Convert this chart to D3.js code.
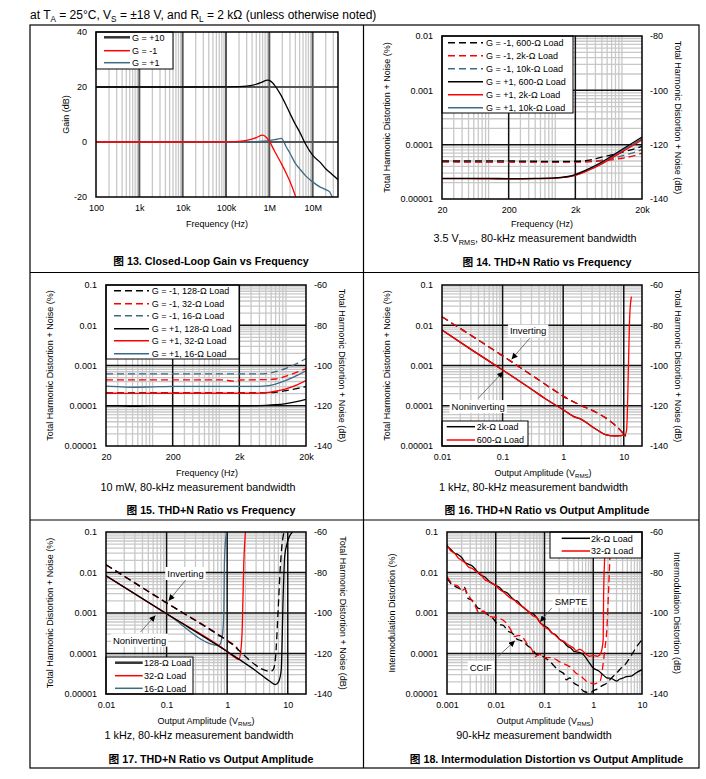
<!DOCTYPE html>
<html>
<head>
<meta charset="utf-8">
<script src="https://cdn.jsdelivr.net/npm/d3@7/dist/d3.min.js"></script>
<style>
  body { margin: 0; background: #fff; }
</style>
</head>
<body>
<svg id="page" width="706" height="779"></svg>
<script>
// ---------- Fig 13: closed-loop gain (dB) vs frequency (Hz)
const f13G10  = [100, 1e3, 1e4, 1e5, 2e5, 3e5, 5e5, 7e5, 9e5, 1e6, 1.3e6, 1.8e6, 2.5e6, 3e6, 4e6, 5e6, 7e6, 1e7, 1.5e7, 2e7, 2.6e7, 3e7, 3.85e7]
const gainG10 = [20, 20, 20, 20.05, 20.1, 20.3, 21.0, 21.9, 22.5, 22.4, 20.8, 17.4, 13, 10.4, 6.4, 3.7, -1, -4.8, -7.4, -9.7, -11.3, -12.2, -13.7]
const f13Gm1  = [100, 1e3, 1e4, 1e5, 2e5, 3e5, 5e5, 7e5, 1e6, 1.3e6, 1.8e6, 2.5e6, 3e6, 4e6, 4.5e6]
const gainGm1 = [0, 0, 0, 0.05, 0.25, 0.6, 1.6, 2.5, 0.3, -3.1, -7.2, -11.6, -14.4, -19.6, -22]
const f13G1   = [100, 1e3, 1e4, 1e5, 3e5, 5e5, 7e5, 1e6, 1.5e6, 1.9e6, 2.5e6, 3e6, 4e6, 5e6, 7e6, 1e7, 1.5e7, 2e7, 2.5e7, 2.8e7, 3.2e7]
const gainG1  = [0, 0, 0, 0, 0.05, 0.15, 0.3, 0.5, 1.0, 1.3, -2, -4.1, -7.8, -9.7, -12.4, -14.5, -16.4, -17.3, -18.2, -20, -23]

// ---------- Fig 14: THD+N (dB) vs frequency, 3.5 Vrms
const f14 = [20, 50, 100, 200, 500, 1000, 2000, 3000, 5000, 7000, 10000, 15000, 20000]
const thd14Inv600 = [-126, -126, -126, -126, -126.1, -126.2, -126.1, -125.8, -124.6, -123.8, -122.8, -121.6, -120.6]
const thd14Inv2k  = [-126.3, -126.4, -126.4, -126.4, -126.4, -126.4, -126.4, -126.3, -126, -125.6, -125, -124.1, -123.1]
const thd14Inv10k = [-126.3, -126.3, -126.4, -126.4, -126.4, -126.4, -126.3, -126.2, -125.7, -125.1, -124.1, -122.9, -121.8]
const thd14Non600 = [-132.4, -132.4, -132.4, -132.5, -132.4, -132.2, -131.0, -129.2, -126.4, -124.2, -121.8, -119.1, -117.2]
const thd14Non2k  = [-132.5, -132.5, -132.6, -132.6, -132.5, -132.3, -131.3, -129.7, -127.1, -125, -122.7, -120.1, -118.3]
const thd14Non10k = [-132.5, -132.5, -132.5, -132.6, -132.5, -132.3, -131.2, -129.5, -126.8, -124.7, -122.3, -119.7, -117.8]

// ---------- Fig 15: THD+N (dB) vs frequency, 10 mW
const f15 = [20, 30, 50, 100, 200, 500, 1000, 1800, 2000, 3000, 5000, 7000, 10000, 15000, 20000]
const thd15Inv128 = [-113.6, -113.6, -113.6, -113.6, -113.6, -113.6, -113.6, -113.6, -113.6, -113.6, -113.6, -113.3, -112.5, -111.4, -110.4]
const thd15Inv32  = [-107.1, -107.1, -107.1, -107.1, -107.1, -107.1, -107.1, -107.8, -107.2, -107.1, -107, -106.7, -105.3, -103.2, -101.6]
const thd15Inv16  = [-104.2, -104.2, -104.2, -104.2, -104.2, -104.2, -104.2, -104.2, -104.2, -104.2, -104, -103.1, -101.4, -98.8, -96.5]
const thd15Non128 = [-120, -120, -120.3, -120.1, -120, -120, -120, -120, -120, -120, -119.8, -119.5, -118.9, -117.8, -116.8]
const thd15Non32  = [-113.8, -113.8, -113.9, -113.8, -113.8, -113.8, -113.8, -113.8, -113.8, -113.8, -113.5, -112.8, -111.6, -109.5, -107.5]
const thd15Non16  = [-110.2, -110.5, -110.8, -110.6, -110.4, -110.4, -110.4, -110.4, -110.4, -110.4, -110.1, -109.2, -107.4, -104.8, -102.6]

// ---------- Fig 16: THD+N (dB) vs output amplitude (Vrms)
const v16Non      = [0.01, 0.03, 0.1, 0.3, 0.5, 1, 1.5, 2, 3, 4, 5, 7, 9, 10.4, 11, 11.4, 11.8, 12.6, 13.4]
const thd16Non600 = [-82.4, -92, -102.2, -111.8, -116.4, -122, -125.4, -126.8, -130.4, -132.8, -134.4, -135, -134.8, -134.6, -133, -126, -107.2, -74, -65.8]
const v16Non2k    = [0.01, 0.03, 0.1, 0.3, 0.5, 1, 1.5, 2, 3, 4, 5, 7, 9, 10.4, 10.8]
const thd16Non2k  = [-82.4, -92, -102.2, -111.8, -116.4, -122, -125.4, -126.8, -130.4, -132.8, -134.4, -135, -134.8, -134.6, -135.2]
const v16Inv      = [0.01, 0.1, 1, 10, 10.4]
const thd16Inv600 = [-75.8, -95.2, -115.2, -134, -134.6]
const thd16Inv2k  = [-75.8, -95.2, -115.2, -134, -134.6]

// ---------- Fig 17: THD+N (dB) vs output amplitude, headphone loads
const v17Non128   = [0.01, 0.1, 1, 3, 5, 6.3, 7.1, 7.8, 8.4, 8.9, 9.8, 11.9]
const thd17Non128 = [-81.6, -100.4, -119, -128.6, -133.6, -135.4, -133.8, -128, -91.8, -72, -65.4, -60]
const v17Inv128   = [0.01, 0.1, 1, 5.2, 5.76, 6.3, 6.9, 7.6, 8.4, 8.7]
const thd17Inv128 = [-76.2, -95, -113.6, -128.8, -128, -121.4, -100, -75.4, -62, -60]
const v17Non32    = [0.01, 0.1, 1, 1.29, 1.56, 1.66, 1.77, 1.88, 2.0]
const thd17Non32  = [-81.6, -100.4, -119, -121.6, -123, -119.8, -108.2, -75.4, -60]
const v17Inv32    = [0.01, 0.1, 1, 1.46, 1.52]
const thd17Inv32  = [-76.2, -95, -113.6, -117.2, -118.6]
const v17Non16    = [0.01, 0.1, 0.73, 0.83, 0.88, 0.9, 0.97]
const thd17Non16  = [-81.6, -100.4, -116, -111.6, -100, -75.4, -60]
const v17Inv16    = [0.01, 0.1, 0.6, 0.75, 0.83]
const thd17Inv16  = [-76.2, -95, -109.4, -111.4, -111.6]

// ---------- Fig 18: IMD (dB) vs output amplitude
const v18SmpteK = [0.001, 0.0012, 0.0014, 0.0017, 0.002, 0.0024, 0.0028, 0.0033, 0.004, 0.005, 0.006, 0.007, 0.008, 0.01, 0.012, 0.014, 0.017, 0.02, 0.024, 0.028, 0.033, 0.04, 0.05, 0.06, 0.07, 0.08, 0.1, 0.12, 0.14, 0.17, 0.2, 0.25, 0.3, 0.35, 0.4, 0.5, 0.63, 0.8, 1.0, 1.3, 1.6, 1.9, 2.4, 3.0, 3.5, 4.0, 4.8, 6.0, 7.5, 10]
const imdSmpteK = [-67, -68.6, -70.4, -71.2, -72.6, -75.2, -76, -76.8, -79, -81.4, -82.2, -83.8, -85, -86.4, -87.4, -89.2, -90, -91.8, -93.6, -94.2, -96.2, -98, -99.8, -100.6, -102.4, -104.6, -106.4, -107.6, -109.8, -110.8, -112.8, -114.4, -116.6, -117.4, -119, -119.4, -120.6, -124, -127.2, -128.6, -130.6, -132, -132.4, -133.6, -132.6, -132.2, -131.4, -131.2, -129.6, -128]
const v18SmpteR = [0.001, 0.0012, 0.0014, 0.0017, 0.002, 0.0024, 0.0028, 0.0033, 0.004, 0.005, 0.006, 0.007, 0.008, 0.01, 0.012, 0.014, 0.017, 0.02, 0.024, 0.028, 0.033, 0.04, 0.05, 0.06, 0.07, 0.08, 0.1, 0.12, 0.14, 0.17, 0.21, 0.25, 0.3, 0.39, 0.45, 0.52, 0.6, 0.7, 0.84, 1.0, 1.22, 1.43, 1.55, 1.6, 1.63, 1.72, 1.8]
const imdSmpteR = [-66.2, -69.4, -70.2, -72.8, -74, -75.4, -77.4, -78, -79.6, -81, -83.6, -84.4, -85.2, -86.4, -88.4, -89.4, -91.2, -92.6, -93.6, -95.2, -96.4, -97.8, -100, -101.6, -102.2, -104.4, -107, -108, -109.6, -111.2, -113.2, -114, -115.6, -117.2, -118.6, -118, -118.6, -120.2, -121.4, -121, -121.4, -119.8, -116, -113, -92, -72, -60]
const v18CcifK = [0.001, 0.0012, 0.0014, 0.0017, 0.002, 0.0023, 0.0027, 0.0031, 0.0035, 0.0043, 0.005, 0.006, 0.007, 0.009, 0.0112, 0.014, 0.0179, 0.022, 0.026, 0.0289, 0.036, 0.0464, 0.055, 0.069, 0.085, 0.1, 0.13, 0.17, 0.21, 0.25, 0.28, 0.33, 0.4, 0.5, 0.63, 0.75, 0.86, 1.0, 1.2, 1.5, 1.9, 2.4, 3.05, 3.8, 4.8, 6.0, 7.5, 10]
const imdCcifK = [-82.8, -85.4, -86.6, -87.6, -88.4, -87.4, -92.8, -93.4, -94.4, -97.6, -98, -99.6, -101, -103, -105.8, -106, -109, -110, -112.6, -113.2, -114, -116.4, -117.6, -120.6, -121, -122, -124, -127, -128.8, -130, -133, -132, -134.6, -136, -138.6, -139.2, -139.4, -138.4, -137.6, -136, -134.6, -132, -129.6, -127, -124.6, -121, -117.2, -113.2]
const v18CcifR = [0.001, 0.0013, 0.0017, 0.002, 0.0023, 0.0027, 0.0035, 0.0047, 0.0055, 0.007, 0.009, 0.0112, 0.0153, 0.02, 0.0247, 0.03, 0.0366, 0.045, 0.055, 0.0636, 0.08, 0.094, 0.12, 0.15, 0.2, 0.28, 0.35, 0.44, 0.55, 0.73, 0.9, 1.07, 1.25, 1.37, 1.5, 1.6, 1.75, 1.9, 2.04, 2.2, 2.3]
const imdCcifR = [-82, -85.6, -86.8, -89, -88.2, -91, -95, -100, -99, -101.6, -102, -102.4, -104.2, -108, -111.6, -111, -112.4, -115.6, -118, -121.6, -120.4, -122.2, -122, -122.2, -124, -125.6, -127, -129.6, -131, -133.8, -134.6, -135, -134.4, -133.8, -130, -124.6, -117, -108.2, -91.8, -72, -60]

// annotation anchors, in data units [Vrms, dB]: label, arrow start, arrow tip
const ann16 = [
  { label: 'Inverting',    at: [0.264, -82.9], from: [0.28, -86.5],  to: [0.141, -96.9] },
  { label: 'Noninverting', at: [0.0396, -120.5], from: [0.0396, -116.3], to: [0.102, -103.1] }
]
const ann17 = [
  { label: 'Inverting',    at: [0.205, -80.6], from: [0.205, -83.9], to: [0.108, -93.9] },
  { label: 'Noninverting', at: [0.0359, -113.5], from: [0.037, -109.4], to: [0.0653, -101.2] }
]
const ann18 = [
  { label: 'SMPTE', at: [0.351, -94.3], from: [0.141, -97.5], to: [0.081, -104.4] },
  { label: 'CCIF',  at: [0.00493, -126.9], from: [0.0112, -121.4], to: [0.0247, -113.7] }
]

const FONT = '"Liberation Sans", Arial, "Noto Sans CJK SC", sans-serif'
const RED = '#ff0000', BLUE = '#3d6a85', BLACK = '#000', DARK = '#333'
const DASH = '7,4'

const svg = d3.select('#page').attr('font-family', FONT)

svg.append('defs').append('marker')
  .attr('id', 'arr').attr('viewBox', '0 0 10 10')
  .attr('refX', 10).attr('refY', 5)
  .attr('markerWidth', 7).attr('markerHeight', 6)
  .attr('markerUnits', 'userSpaceOnUse').attr('orient', 'auto')
  .append('path').attr('d', 'M0,0L10,5L0,10z').attr('fill', '#000')

// page frame
const frame = svg.append('g').attr('stroke', '#000').attr('stroke-width', 1.2).attr('fill', 'none')
frame.append('rect').attr('x', 30).attr('y', 25).attr('width', 669).attr('height', 743)
frame.append('line').attr('x1', 363.5).attr('x2', 363.5).attr('y1', 25).attr('y2', 768)
frame.append('line').attr('x1', 30).attr('x2', 699).attr('y1', 272.5).attr('y2', 272.5)
frame.append('line').attr('x1', 30).attr('x2', 699).attr('y1', 520).attr('y2', 520)

// text with optional subscript pieces ({sub: '..'})
function addText(g, x, y, parts, o) {
  const t = g.append('text').attr('x', x).attr('y', y)
    .attr('font-size', o.size).attr('text-anchor', o.anchor || 'middle')
    .attr('font-weight', o.weight || null).attr('fill', '#000')
  if (o.rotate) t.attr('transform', `rotate(${o.rotate},${x},${y})`).attr('dy', '0.35em')
  const shift = o.size * 0.25
  let lowered = false
  parts.forEach(pt => {
    if (typeof pt === 'string') {
      t.append('tspan').attr('dy', lowered ? -shift : null).text(pt)
      lowered = false
    } else {
      t.append('tspan').attr('font-size', o.size * 0.68).attr('dy', shift).text(pt.sub)
      lowered = true
    }
  })
  return t
}

addText(svg, 30, 19, ['at T', { sub: 'A' }, ' = 25°C, V', { sub: 'S' }, ' = ±18 V, and R', { sub: 'L' }, ' = 2 kΩ (unless otherwise noted)'], { size: 12, anchor: 'start' })

function logGrid(lo, hi) {
  const out = []
  for (let e = Math.floor(Math.log10(lo)) - 1; e <= Math.ceil(Math.log10(hi)); e++)
    for (let k = 1; k < 10; k++) {
      const v = +(k * Math.pow(10, e)).toPrecision(6)
      if (v > lo * 1.001 && v < hi * 0.999) out.push(v)
    }
  return out
}
const near = (v, arr) => arr.some(m => Math.abs(v / m - 1) < 1e-6)

const fmtHz = d => d >= 1e6 ? d / 1e6 + 'M' : d >= 1e3 ? d / 1e3 + 'k' : String(d)
const fmtPct = d => String(d)

function drawPanel(p) {
  const [l, r] = p.x.range(), [b, t] = p.y.range()
  const g = svg.append('g')
  const clipId = 'clip' + p.id
  g.append('clipPath').attr('id', clipId).append('rect')
    .attr('x', l).attr('y', t).attr('width', r - l).attr('height', b - t)

  const xd = p.x.domain(), yd = p.y.domain()
  const xMinor = logGrid(xd[0], xd[1]).filter(v => !near(v, p.xTicks))
  const yMinor = p.yLog ? logGrid(yd[0], yd[1]).filter(v => !near(v, p.yTicks)) : []
  const xMajor = p.xTicks.filter(v => v > xd[0] * 1.001 && v < xd[1] * 0.999)
  const yMajor = p.yTicks.filter(v => v > Math.min(...yd) && v < Math.max(...yd))

  g.append('rect').attr('x', l).attr('y', t).attr('width', r - l).attr('height', b - t).attr('fill', '#fff')
  const grid = g.append('g')
  grid.selectAll('.xm').data(xMinor).join('line')
    .attr('x1', d => p.x(d)).attr('x2', d => p.x(d)).attr('y1', t).attr('y2', b)
    .attr('stroke', '#c8c8c8').attr('stroke-width', 1.3)
  grid.selectAll('.ym').data(yMinor).join('line')
    .attr('y1', d => p.y(d)).attr('y2', d => p.y(d)).attr('x1', l).attr('x2', r)
    .attr('stroke', '#c8c8c8').attr('stroke-width', 1.3)
  grid.selectAll('.xM').data(xMajor).join('line')
    .attr('x1', d => p.x(d)).attr('x2', d => p.x(d)).attr('y1', t).attr('y2', b)
    .attr('stroke', p.majorColor).attr('stroke-width', p.majorWidth)
  grid.selectAll('.yM').data(yMajor).join('line')
    .attr('y1', d => p.y(d)).attr('y2', d => p.y(d)).attr('x1', l).attr('x2', r)
    .attr('stroke', p.majorColor).attr('stroke-width', p.majorWidth)

  // curves
  const yv = p.yVal || p.y
  const line = d3.line().x(d => p.x(d[0])).y(d => yv(d[1])).curve(d3.curveMonotoneX)
  g.append('g').attr('clip-path', `url(#${clipId})`)
    .selectAll('path').data(p.series).join('path')
    .attr('d', s => line(d3.zip(s.x, s.y)))
    .attr('fill', 'none').attr('stroke', s => s.color)
    .attr('stroke-width', s => s.width || 1.3)
    .attr('stroke-dasharray', s => s.dash ? DASH : null)

  // annotations
  ;(p.notes || []).forEach(n => {
    const a = g.append('g')
    a.append('line')
      .attr('x1', p.x(n.from[0])).attr('y1', yv(n.from[1]))
      .attr('x2', p.x(n.to[0])).attr('y2', yv(n.to[1]))
      .attr('stroke', '#555').attr('stroke-width', 0.8).attr('marker-end', 'url(#arr)')
    const box = a.append('rect').attr('fill', '#fff')
    const tx = addText(a, p.x(n.at[0]), yv(n.at[1]) + 3.3, [n.label], { size: 9.5 })
    const bb = tx.node().getBBox()
    box.attr('x', bb.x - 2).attr('y', bb.y - 1).attr('width', bb.width + 4).attr('height', bb.height + 2)
  })

  // legend
  const L = p.legend
  const lg = g.append('g')
  lg.append('rect').attr('x', L.box[0]).attr('y', L.box[1]).attr('width', L.box[2]).attr('height', L.box[3])
    .attr('fill', '#fff').attr('stroke', '#000').attr('stroke-width', 1)
  L.items.forEach((it, i) => {
    lg.append('line').attr('x1', L.line[0]).attr('x2', L.line[1]).attr('y1', L.rows[i]).attr('y2', L.rows[i])
      .attr('stroke', it.color).attr('stroke-width', it.width || 1.5)
      .attr('stroke-dasharray', it.dash ? DASH : null)
    addText(lg, L.textX, L.rows[i] + 3.2, [it.label], { size: 9, anchor: 'start' })
  })

  g.append('rect').attr('x', l).attr('y', t).attr('width', r - l).attr('height', b - t)
    .attr('fill', 'none').attr('stroke', '#000').attr('stroke-width', 1.5)

  // axes
  const styleAxis = ax => { ax.select('.domain').remove(); ax.attr('font-family', FONT).attr('font-size', 9) }
  g.append('g').attr('transform', `translate(0,${b})`)
    .call(d3.axisBottom(p.x).tickValues(p.xTicks).tickFormat(p.xFmt).tickSize(0).tickPadding(8)).call(styleAxis)
  g.append('g').attr('transform', `translate(${l},0)`)
    .call(d3.axisLeft(p.y).tickValues(p.yTicks).tickFormat(p.yFmt).tickSize(0).tickPadding(9)).call(styleAxis)
  if (p.yDb) {
    g.append('g').attr('transform', `translate(${r},0)`)
      .call(d3.axisRight(p.yDb).tickValues(p.dbTicks).tickFormat(d => String(d)).tickSize(0).tickPadding(8)).call(styleAxis)
  }

  const cy = (t + b) / 2
  addText(g, p.xTitle[0], p.xTitle[1], p.xTitle[2], { size: 9 })
  addText(g, p.leftTitle[0], cy, [p.leftTitle[1]], { size: 9, rotate: -90 })
  if (p.rightTitle) addText(g, p.rightTitle[0], cy, [p.rightTitle[1]], { size: 9, rotate: 90 })
  if (p.sub) addText(g, p.sub[0], p.sub[1], p.sub[2], { size: 10.8 })
  addText(g, p.caption[0], p.caption[1], [p.caption[2]], { size: 10.7, weight: 'bold' })
}

const thdTitleL = 'Total Harmonic Distortion + Noise (%)'
const thdTitleR = 'Total Harmonic Distortion + Noise (dB)'
const ampTitle = ['Output Amplitude (V', { sub: 'RMS' }, ')']

// Fig 13
drawPanel({
  id: 13,
  x: d3.scaleLog().domain([100, 3.85e7]).range([96, 338]),
  y: d3.scaleLinear().domain([-20, 40]).range([197, 32]),
  xTicks: [100, 1e3, 1e4, 1e5, 1e6, 1e7], xFmt: fmtHz,
  yTicks: [-20, 0, 20, 40], yFmt: d => String(d),
  majorColor: '#555', majorWidth: 2,
  series: [
    { x: f13G1, y: gainG1, color: BLUE },
    { x: f13Gm1, y: gainGm1, color: RED },
    { x: f13G10, y: gainG10, color: BLACK }
  ],
  legend: {
    box: [96, 32, 77, 37], rows: [37.3, 50.7, 62.7], line: [104, 130], textX: 132,
    items: [
      { label: 'G = +10', color: DARK, width: 2.5 },
      { label: 'G = -1', color: RED },
      { label: 'G = +1', color: BLUE }
    ]
  },
  xTitle: [217, 227, ['Frequency (Hz)']],
  leftTitle: [66, 'Gain (dB)'],
  caption: [211, 265, '图 13. Closed-Loop Gain vs Frequency']
})

// Fig 14
const y14 = d3.scaleLog().domain([1e-5, 1e-2]).range([199, 36])
const db14 = d3.scaleLinear().domain([-140, -80]).range([199, 36])
drawPanel({
  id: 14,
  x: d3.scaleLog().domain([20, 20000]).range([442, 642]),
  y: y14, yLog: true, yVal: db14, yDb: db14,
  xTicks: [20, 200, 2000, 20000], xFmt: fmtHz,
  yTicks: [1e-5, 1e-4, 1e-3, 1e-2], yFmt: fmtPct, dbTicks: [-140, -120, -100, -80],
  majorColor: '#111', majorWidth: 1.5,
  series: [
    { x: f14, y: thd14Inv10k, color: BLUE, dash: true },
    { x: f14, y: thd14Inv2k, color: RED, dash: true },
    { x: f14, y: thd14Inv600, color: BLACK, dash: true },
    { x: f14, y: thd14Non10k, color: BLUE },
    { x: f14, y: thd14Non2k, color: RED },
    { x: f14, y: thd14Non600, color: BLACK }
  ],
  legend: {
    box: [442, 36, 131, 77], rows: [42.7, 55.7, 68.7, 81.7, 94.7, 107.7], line: [448, 483], textX: 486,
    items: [
      { label: 'G = -1, 600-Ω Load', color: BLACK, dash: true },
      { label: 'G = -1, 2k-Ω Load', color: RED, dash: true },
      { label: 'G = -1, 10k-Ω Load', color: BLUE, dash: true },
      { label: 'G = +1, 600-Ω Load', color: BLACK },
      { label: 'G = +1, 2k-Ω Load', color: RED },
      { label: 'G = +1, 10k-Ω Load', color: BLUE }
    ]
  },
  xTitle: [542, 227, ['Frequency (Hz)']],
  leftTitle: [387, thdTitleL], rightTitle: [678, thdTitleR],
  sub: [535, 242, ['3.5 V', { sub: 'RMS' }, ', 80-kHz measurement bandwidth']],
  caption: [547, 266, '图 14. THD+N Ratio vs Frequency']
})

// Fig 15
drawPanel({
  id: 15,
  x: d3.scaleLog().domain([20, 20000]).range([106, 306]),
  y: d3.scaleLog().domain([1e-5, 0.1]).range([446, 285]), yLog: true,
  yVal: d3.scaleLinear().domain([-140, -60]).range([446, 285]),
  yDb: d3.scaleLinear().domain([-140, -60]).range([446, 285]),
  xTicks: [20, 200, 2000, 20000], xFmt: fmtHz,
  yTicks: [1e-5, 1e-4, 1e-3, 1e-2, 0.1], yFmt: fmtPct, dbTicks: [-140, -120, -100, -80, -60],
  majorColor: '#111', majorWidth: 1.5,
  series: [
    { x: f15, y: thd15Inv128, color: BLACK, dash: true },
    { x: f15, y: thd15Inv32, color: RED, dash: true },
    { x: f15, y: thd15Inv16, color: BLUE, dash: true },
    { x: f15, y: thd15Non128, color: BLACK },
    { x: f15, y: thd15Non32, color: RED },
    { x: f15, y: thd15Non16, color: BLUE }
  ],
  legend: {
    box: [106, 285, 133, 74], rows: [290.7, 303.7, 315.7, 328.7, 340.7, 353.7], line: [114, 149], textX: 151.7,
    items: [
      { label: 'G = -1, 128-Ω Load', color: BLACK, dash: true },
      { label: 'G = -1, 32-Ω Load', color: RED, dash: true },
      { label: 'G = -1, 16-Ω Load', color: BLUE, dash: true },
      { label: 'G = +1, 128-Ω Load', color: BLACK },
      { label: 'G = +1, 32-Ω Load', color: RED },
      { label: 'G = +1, 16-Ω Load', color: BLUE }
    ]
  },
  xTitle: [207, 476, ['Frequency (Hz)']],
  leftTitle: [50, thdTitleL], rightTitle: [342, thdTitleR],
  sub: [198, 491, ['10 mW, 80-kHz measurement bandwidth']],
  caption: [211, 514, '图 15. THD+N Ratio vs Frequency']
})

// Fig 16
drawPanel({
  id: 16,
  x: d3.scaleLog().domain([0.01, 20]).range([442, 642]),
  y: d3.scaleLog().domain([1e-5, 0.1]).range([446, 285]), yLog: true,
  yVal: d3.scaleLinear().domain([-140, -60]).range([446, 285]),
  yDb: d3.scaleLinear().domain([-140, -60]).range([446, 285]),
  xTicks: [0.01, 0.1, 1, 10], xFmt: d => String(d),
  yTicks: [1e-5, 1e-4, 1e-3, 1e-2, 0.1], yFmt: fmtPct, dbTicks: [-140, -120, -100, -80, -60],
  majorColor: '#111', majorWidth: 1.5,
  series: [
    { x: v16Non2k, y: thd16Non2k, color: BLACK },
    { x: v16Inv, y: thd16Inv2k, color: BLACK, dash: true },
    { x: v16Non, y: thd16Non600, color: RED },
    { x: v16Inv, y: thd16Inv600, color: RED, dash: true }
  ],
  notes: ann16,
  legend: {
    box: [442, 421, 86, 25], rows: [426.7, 440], line: [446.7, 475], textX: 476.7,
    items: [
      { label: '2k-Ω Load', color: BLACK },
      { label: '600-Ω Load', color: RED }
    ]
  },
  xTitle: [543, 476, ampTitle],
  leftTitle: [387, thdTitleL], rightTitle: [678, thdTitleR],
  sub: [533.5, 491, ['1 kHz, 80-kHz measurement bandwidth']],
  caption: [547, 514, '图 16. THD+N Ratio vs Output Amplitude']
})

// Fig 17
drawPanel({
  id: 17,
  x: d3.scaleLog().domain([0.01, 20]).range([106, 306]),
  y: d3.scaleLog().domain([1e-5, 0.1]).range([694, 532]), yLog: true,
  yVal: d3.scaleLinear().domain([-140, -60]).range([694, 532]),
  yDb: d3.scaleLinear().domain([-140, -60]).range([694, 532]),
  xTicks: [0.01, 0.1, 1, 10], xFmt: d => String(d),
  yTicks: [1e-5, 1e-4, 1e-3, 1e-2, 0.1], yFmt: fmtPct, dbTicks: [-140, -120, -100, -80, -60],
  majorColor: '#111', majorWidth: 1.5,
  series: [
    { x: v17Inv16, y: thd17Inv16, color: BLUE, dash: true },
    { x: v17Non16, y: thd17Non16, color: BLUE },
    { x: v17Inv32, y: thd17Inv32, color: RED, dash: true },
    { x: v17Non32, y: thd17Non32, color: RED },
    { x: v17Inv128, y: thd17Inv128, color: BLACK, dash: true },
    { x: v17Non128, y: thd17Non128, color: BLACK }
  ],
  notes: ann17,
  legend: {
    box: [106, 657, 87, 37], rows: [662.7, 675.7, 688.3], line: [115, 142.7], textX: 144,
    items: [
      { label: '128-Ω Load', color: DARK, width: 2.5 },
      { label: '32-Ω Load', color: RED },
      { label: '16-Ω Load', color: BLUE }
    ]
  },
  xTitle: [206, 724, ampTitle],
  leftTitle: [50, thdTitleL], rightTitle: [343, thdTitleR],
  sub: [199, 739, ['1 kHz, 80-kHz measurement bandwidth']],
  caption: [211, 763, '图 17. THD+N Ratio vs Output Amplitude']
})

// Fig 18
drawPanel({
  id: 18,
  x: d3.scaleLog().domain([0.001, 10]).range([447, 642]),
  y: d3.scaleLog().domain([1e-5, 0.1]).range([694, 532]), yLog: true,
  yVal: d3.scaleLinear().domain([-140, -60]).range([694, 532]),
  yDb: d3.scaleLinear().domain([-140, -60]).range([694, 532]),
  xTicks: [0.001, 0.01, 0.1, 1, 10], xFmt: d => String(d),
  yTicks: [1e-5, 1e-4, 1e-3, 1e-2, 0.1], yFmt: fmtPct, dbTicks: [-140, -120, -100, -80, -60],
  majorColor: '#111', majorWidth: 1.5,
  series: [
    { x: v18CcifK, y: imdCcifK, color: BLACK, dash: true },
    { x: v18CcifR, y: imdCcifR, color: RED, dash: true },
    { x: v18SmpteK, y: imdSmpteK, color: BLACK },
    { x: v18SmpteR, y: imdSmpteR, color: RED }
  ],
  notes: ann18,
  legend: {
    box: [550, 532, 92, 26], rows: [538.3, 551], line: [561.7, 590], textX: 591,
    items: [
      { label: '2k-Ω Load', color: BLACK },
      { label: '32-Ω Load', color: RED }
    ]
  },
  xTitle: [545, 724, ampTitle],
  leftTitle: [392, 'Intermodulation Distortion (%)'], rightTitle: [677, 'Intermodulation Distortion (dB)'],
  sub: [534, 739, ['90-kHz measurement bandwidth']],
  caption: [546.5, 763, '图 18. Intermodulation Distortion vs Output Amplitude']
})
</script>
</body>
</html>
